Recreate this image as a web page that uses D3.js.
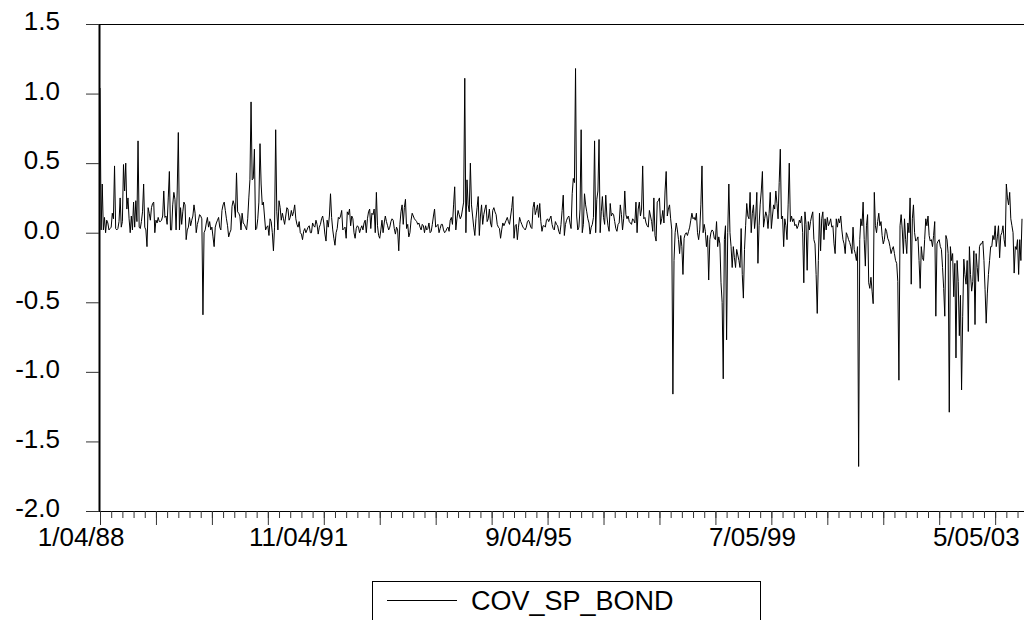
<!DOCTYPE html>
<html>
<head>
<meta charset="utf-8">
<script src="https://cdn.jsdelivr.net/npm/d3@7"></script>
<style>
  body { margin: 0; background: #fff; }
  svg { display: block; font-family: "Liberation Sans", Arial, sans-serif; }
</style>
</head>
<body>
<div id="wrapper"></div>
<script>
// weekly observations, first one is 1/04/88
const covSpBond = [
  1.04, 0.02, 0.35, 0.02, 0.11, 0.0, 0.09, 0.07, 0.02, 0.03,
  0.04, 0.14, 0.1, 0.48, 0.03, 0.02, 0.03, 0.08, 0.25, 0.04,
  0.08, 0.49, 0.3, 0.5, 0.17, 0.25, 0.1, 0.0, 0.12, 0.02,
  0.22, 0.04, 0.23, 0.08, 0.66, 0.04, 0.03, 0.08, 0.15, 0.35,
  0.04, 0.02, -0.1, 0.18, 0.14, 0.09, 0.18, 0.21, 0.22, 0.0,
  0.09, 0.07, 0.11, 0.08, 0.08, 0.09, 0.12, 0.3, 0.11, 0.12,
  0.06, 0.25, 0.44, 0.02, 0.02, 0.2, 0.29, 0.24, 0.02, 0.3,
  0.72, 0.02, 0.18, 0.06, 0.15, 0.22, 0.2, -0.05, 0.02, 0.04,
  0.11, 0.05, 0.09, 0.12, 0.2, 0.14, 0.0, 0.06, 0.09, 0.13,
  0.12, 0.1, -0.59, 0.0, 0.02, 0.07, 0.11, 0.04, 0.08, 0.02,
  0.04, -0.03, -0.1, 0.04, 0.07, 0.09, 0.11, 0.04, 0.02, 0.16,
  0.2, 0.22, 0.16, 0.1, 0.05, -0.03, 0.0, 0.02, 0.19, 0.23,
  0.2, 0.11, 0.43, 0.15, 0.14, 0.12, 0.02, 0.14, 0.07, 0.06,
  0.04, 0.02, 0.1, 0.25, 0.38, 0.94, 0.38, 0.39, 0.6, 0.02,
  0.03, 0.1, 0.22, 0.64, 0.35, 0.2, 0.22, 0.12, 0.02,
  0.04, 0.05, -0.02, 0.1, 0.08, 0.0, -0.13, 0.04, 0.74, 0.15,
  0.02, 0.23, 0.18, 0.09, 0.14, 0.1, 0.06, 0.12, 0.18, 0.17,
  0.09, 0.11, 0.16, 0.12, 0.15, 0.2, 0.1, 0.06, 0.04, 0.08,
  0.0, -0.01, -0.05, 0.01, 0.03, 0.0, 0.02, 0.04, 0.05, 0.0,
  0.0, 0.07, 0.05, 0.04, 0.09, 0.06, -0.01, 0.04, 0.06, 0.1,
  0.12, 0.07, -0.01, -0.06, 0.09, 0.04, 0.12, 0.28, 0.11, 0.02,
  -0.04, -0.09, 0.0, 0.03, 0.11, 0.1, 0.12, 0.16, 0.02, 0.03,
  0.04, -0.04, 0.15, 0.13, 0.17, 0.05, 0.12, 0.1, 0.0, -0.04,
  0.03, 0.05, 0.04, 0.0, 0.03, 0.05, 0.02, 0.07, 0.09, 0.0,
  0.1, 0.15, 0.17, 0.03, 0.14, 0.13, 0.17, 0.0, 0.29, 0.05,
  -0.02, -0.04, 0.02, 0.09, 0.0, 0.07, 0.12, 0.08, 0.05, 0.02,
  0.04, 0.08, 0.1, 0.09, 0.03, -0.01, 0.04, 0.02, -0.13, 0.06,
  0.15, 0.2, 0.06, 0.18, 0.24, 0.03, 0.06, -0.03, 0.0, 0.09,
  0.14, 0.12, 0.1, 0.09, 0.08, 0.06, 0.07, 0.04, 0.02, 0.06,
  0.05, 0.0, 0.05, 0.02, 0.03, 0.07, 0.0, 0.01, 0.06, 0.12,
  0.17, 0.04, 0.05, 0.06, 0.0, 0.03, 0.06, 0.06, 0.02, 0.0,
  0.01, 0.03, 0.04, 0.01, 0.09, 0.11, 0.06, 0.2, 0.33, 0.02,
  0.1, 0.16, 0.13, 0.1, 0.12, 0.17, 0.22, 1.11, 0.0, 0.38,
  0.2, 0.15, 0.5, 0.2, 0.12, 0.04, -0.02, 0.1, 0.18, 0.26,
  -0.02, 0.12, 0.2, 0.06, 0.13, 0.17, 0.2, 0.08, 0.1, 0.17,
  0.07, 0.04, 0.16, 0.18, 0.15, 0.13, 0.06, 0.04, 0.03, -0.04,
  0.02, 0.07, 0.05, 0.07, 0.09, 0.11, 0.08, 0.06, 0.12, 0.18,
  0.26, -0.04, 0.05, 0.06, -0.05, 0.04, 0.11, 0.08, 0.06, 0.04,
  0.03, 0.02, 0.04, 0.08, 0.09, 0.07, 0.04, 0.03, 0.18, 0.22,
  0.13, 0.16, 0.2, 0.11, 0.21, 0.08, 0.01, 0.05, 0.05, 0.04,
  0.09, 0.1, 0.08, 0.1, 0.12, 0.06, 0.03, 0.02, 0.08, 0.06,
  0.05, 0.01, -0.01, 0.06, 0.16, 0.27, -0.02, 0.06, 0.09,
  0.11, 0.12, 0.07, 0.03, 0.28, 0.39, 0.36, 1.18, 0.12, 0.02,
  0.04, 0.17, 0.74, 0.0, 0.06, 0.28, 0.2, 0.15, 0.1, 0.07,
  -0.01, 0.04, 0.06, 0.11, 0.66, 0.0, 0.24, 0.3, 0.67, 0.0,
  0.15, 0.26, 0.11, 0.06, 0.27, 0.12, 0.05, 0.01, 0.21, 0.12,
  0.14, 0.13, 0.08, 0.03, 0.01, 0.06, 0.07, 0.2, 0.13, 0.02,
  0.1, 0.3, 0.13, 0.1, 0.12, 0.08, 0.07, 0.06, 0.1, 0.09,
  0.07, 0.22, 0.0, 0.17, 0.22, 0.12, 0.17, 0.48, 0.1, 0.11,
  0.07, 0.05, 0.04, 0.16, 0.12, 0.08, 0.01, 0.25, -0.02, -0.06,
  0.22, 0.23, 0.25, 0.06, 0.1, 0.16, 0.07, 0.3, 0.44, 0.12,
  0.17, 0.2, 0.1, 0.02, -1.16, -0.2, 0.0, 0.07, 0.02, -0.05,
  -0.15, -0.02, -0.1, -0.3, -0.04, -0.01, 0.0, -0.02, 0.01, 0.04,
  0.09, 0.14, 0.1, 0.11, 0.09, 0.14, 0.0, -0.05, 0.02, 0.2,
  0.48, 0.0, 0.06, 0.01, -0.1, -0.02, -0.34, -0.05, 0.0, 0.02,
  0.01, -0.04, -0.05, 0.08, -0.1, -0.03, -0.08, -0.36, -0.5, -1.05,
  -0.05, 0.05, -0.77, 0.0, 0.35, 0.0, -0.1, -0.25, -0.1, -0.18,
  -0.25, -0.12, -0.16, -0.2, -0.25, 0.03, -0.3, -0.47, -0.12, 0.05,
  0.21, 0.12, 0.1, 0.29, 0.0, 0.14, 0.2, 0.03, 0.12, 0.29,
  -0.22, 0.05, 0.2, 0.3, 0.44, 0.04, 0.1, 0.15, 0.12, 0.03,
  0.14, 0.29, 0.03, 0.12, 0.2, 0.17, 0.3, 0.21, 0.1, 0.36,
  0.6, 0.1, 0.12, -0.1, 0.1, 0.05, -0.05, 0.2, 0.5, 0.08,
  0.12, 0.08, 0.1, 0.05, 0.06, 0.03, 0.05, 0.09, 0.07, 0.12,
  0.0, -0.36, 0.15, 0.06, -0.27, 0.08, 0.02, 0.08, 0.12, 0.15,
  -0.05, -0.08, -0.3, -0.58, -0.2, 0.14, -0.13, 0.1, 0.15, -0.05,
  0.1, 0.02, 0.11, 0.05, 0.07, 0.1, 0.04, 0.05, -0.08, -0.15,
  0.1, 0.04, 0.1, 0.07, 0.12, 0.02, -0.05, -0.08, -0.15, 0.0,
  -0.02, -0.05, -0.07, -0.1, -0.15, 0.04, -0.12, -0.15, -0.2, -0.1,
  -1.68, -0.05, 0.1, 0.05, 0.22, -0.05, -0.24, 0.05, 0.13,
  -0.36, -0.4, -0.32, -0.42, -0.51, 0.29, 0.05, 0.0, 0.08, 0.14,
  0.05, 0.08, -0.02, -0.08, -0.05, 0.03, 0.01, -0.04, -0.06, -0.1,
  -0.15, -0.12, -0.1, -0.15, -0.2, -0.22, -0.35, -1.06, 0.05, 0.13,
  0.02, -0.15, 0.1, -0.05, -0.15, 0.07, 0.0, 0.25, -0.37, 0.1,
  0.2, 0.0, -0.06, -0.05, -0.03, -0.2, -0.4, -0.1, -0.18, -0.2,
  -0.05, 0.1, 0.05, 0.12, -0.02, -0.06, -0.05, -0.1, -0.02, 0.08,
  -0.6, -0.08, -0.06, -0.05, -0.1, -0.12, -0.25, -0.4, -0.6, -0.02,
  -0.05, -0.15, -1.29, -0.1, -0.2, -0.15, -0.46, -0.22, -0.9, -0.2,
  -0.35, -0.74, -0.45, -1.13, -0.6, -0.19, -0.3, -0.37, -0.2, -0.71,
  -0.1, -0.3, -0.42, -0.35, -0.13, -0.66, -0.15, -0.25, -0.35, -0.1,
  -0.08, -0.08, -0.06, -0.2, -0.41, -0.65, -0.44, -0.3, -0.2, -0.1,
  -0.1, -0.02, -0.05, 0.05, -0.1, -0.03, 0.05, -0.18, -0.02, 0.0,
  0.05, -0.05, -0.1, 0.35, 0.25, 0.2, 0.29, 0.1, 0.05, 0.0,
  -0.29, -0.1, -0.12, -0.05, -0.3, -0.05, -0.2, 0.1
]

const labelObs = [0, 200, 400, 600, 800]
const tickLabels = ["1/04/88", "11/04/91", "9/04/95", "7/05/99", "5/05/03"]
const yTicks = [-2.0, -1.5, -1.0, -0.5, 0.0, 0.5, 1.0, 1.5]
const seriesName = "COV_SP_BOND"

function drawChart() {
    const width = 1024
    const height = 620
    const left = 100, right = 1022, top = 24, bottom = 511

    const svg = d3.select("#wrapper")
        .append("svg")
            .attr("width", width)
            .attr("height", height)

    const n = covSpBond.length
    const xScale = d3.scaleLinear()
        .domain([0, n - 1])
        .range([left, right])

    const yScale = d3.scaleLinear()
        .domain([-2, 1.5])
        .range([bottom, top])

    // top edge of the frame (no right edge in the original)
    svg.append("line")
        .attr("x1", left - 1)
        .attr("x2", width)
        .attr("y1", top + 0.5)
        .attr("y2", top + 0.5)
        .attr("stroke", "#000")
        .attr("stroke-width", 1)

    // y axis
    const yAxis = svg.append("g")
        .attr("transform", `translate(${left - 1},0)`)
        .call(d3.axisLeft(yScale)
            .tickValues(yTicks)
            .tickSize(13)
            .tickSizeOuter(0)
            .tickPadding(26)
            .tickFormat(d => d.toFixed(1)))
    yAxis.select(".domain").attr("stroke-width", 2)
    yAxis.selectAll(".tick line").attr("stroke", "#333")
    yAxis.selectAll("text")
        .attr("font-size", 26)
        .attr("font-family", "Liberation Sans, Arial, sans-serif")
        .attr("fill", "#000")
        .attr("dy", "0.22em")

    // x axis: minor ticks, major ticks, then date labels
    const xMinor = svg.append("g")
        .attr("transform", `translate(0,${bottom})`)
        .call(d3.axisBottom(xScale)
            .tickValues(d3.range(0, n, 10))
            .tickSize(7)
            .tickSizeOuter(0)
            .tickFormat(""))
    xMinor.select(".domain").attr("d", `M${left - 1},0.5H${width}`)
    const xMajor = svg.append("g")
        .attr("transform", `translate(0,${bottom})`)
        .call(d3.axisBottom(xScale)
            .tickValues(d3.range(0, n, 50))
            .tickSize(14)
            .tickSizeOuter(0)
            .tickFormat(""))
    xMinor.selectAll(".tick line").attr("stroke", "#333")
    xMajor.selectAll(".tick line").attr("stroke", "#333")
    xMajor.select(".domain").remove()

    const xLabels = svg.append("g")
        .attr("transform", `translate(0,${bottom})`)
        .call(d3.axisBottom(xScale)
            .tickValues(labelObs)
            .tickSize(0)
            .tickPadding(17)
            .tickFormat(d => tickLabels[labelObs.indexOf(d)]))
    xLabels.select(".domain").remove()
    xLabels.selectAll("text")
        .attr("font-size", 26)
        .attr("font-family", "Liberation Sans, Arial, sans-serif")
        .attr("fill", "#000")
        .attr("text-anchor", "end")
        .attr("dx", 24)

    // data line
    const lineGenerator = d3.line()
        .x((d, i) => xScale(i))
        .y(d => yScale(d))

    svg.append("path")
        .attr("d", lineGenerator(covSpBond))
        .attr("fill", "none")
        .attr("stroke", "#000")
        .attr("stroke-width", 1)

    // legend
    const legend = svg.append("g")
    legend.append("rect")
        .attr("x", 372.5)
        .attr("y", 581.5)
        .attr("width", 388)
        .attr("height", 60)
        .attr("fill", "#fff")
        .attr("stroke", "#000")
        .attr("stroke-width", 1)
    legend.append("line")
        .attr("x1", 387)
        .attr("x2", 457)
        .attr("y1", 600.5)
        .attr("y2", 600.5)
        .attr("stroke", "#000")
        .attr("stroke-width", 1)
    legend.append("text")
        .attr("x", 471)
        .attr("y", 610)
        .attr("font-size", 27)
        .attr("fill", "#000")
        .text(seriesName)
}
drawChart()
</script>
</body>
</html>
